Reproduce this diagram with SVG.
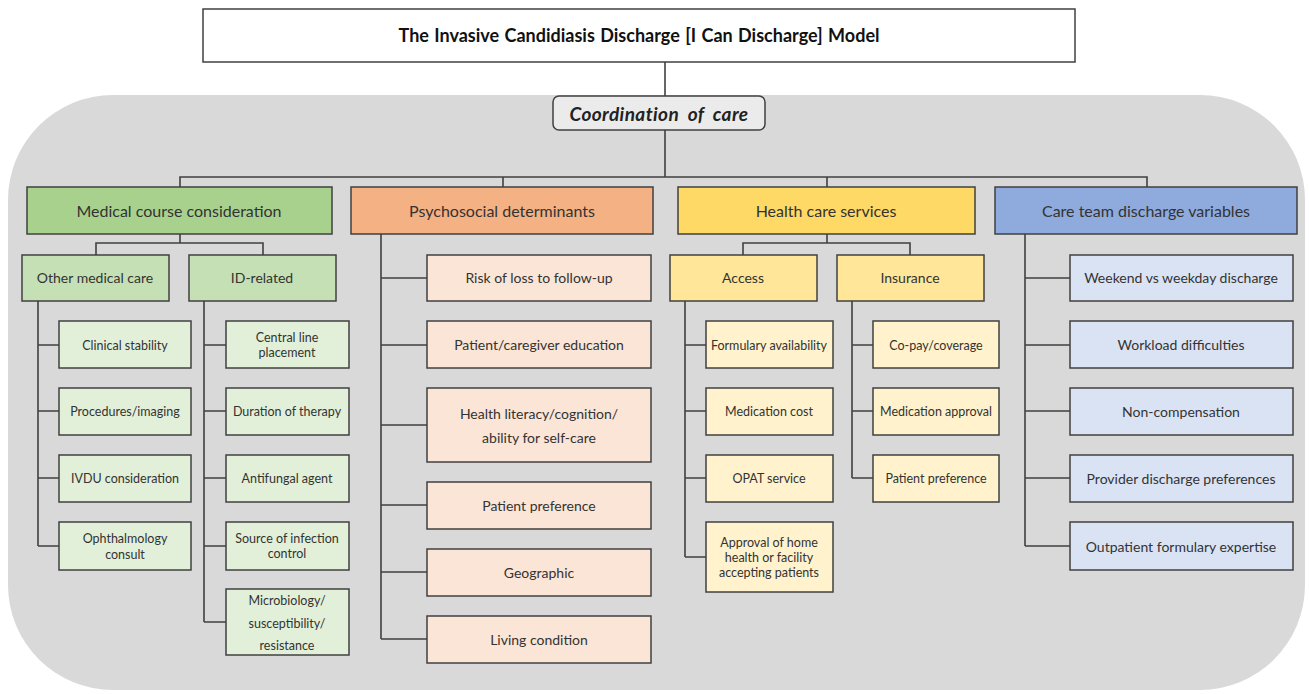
<svg xmlns="http://www.w3.org/2000/svg" width="1309" height="694" viewBox="0 0 1309 694">
  <style>
    text { font-family: "Lato", "Open Sans", "Liberation Sans", sans-serif; fill: #333333; text-anchor: middle; dominant-baseline: central; }
    .box { stroke: #404040; stroke-width: 1.5; }
    .conn { stroke: #404040; stroke-width: 1.6; fill: none; }
    .title { font-size: 18px; font-weight: bold; fill: #111; word-spacing: 1px; }
    .coord { font-size: 19px; font-weight: bold; font-style: italic; fill: #222; word-spacing: 4px; letter-spacing: 0.4px; }
    .cat { font-size: 16px; }
    .sub { font-size: 14px; }
    .leaf { font-size: 12.5px; }
    .pleaf { font-size: 14px; }
    .g1 { fill: #a9d18e; } .g2 { fill: #c5e0b4; } .g3 { fill: #e2f0d9; }
    .o1 { fill: #f4b183; } .o3 { fill: #fbe5d6; }
    .y1 { fill: #ffd966; } .y2 { fill: #ffe699; } .y3 { fill: #fff2cc; }
    .b1 { fill: #8faadc; } .b3 { fill: #dae3f3; }
  </style>

  <!-- background panel -->
  <rect x="8" y="95" width="1297" height="595" rx="105" ry="105" fill="#d9d9d9"/>

  <!-- connectors -->
  <g id="connectors" class="conn">
    <path d="M665 62 V96"/>
    <path d="M665 130 V177 M180 187 V177 H1147 V187 M503 177 V187 M827 177 V187"/>
    <!-- medical -->
    <path d="M180 234 V243 M96 255 V243 H263 V255"/>
    <path d="M38 301 V546 M38 345 H59 M38 411 H59 M38 478 H59 M38 546 H59"/>
    <path d="M204 301 V622 M204 345 H226 M204 411 H226 M204 478 H226 M204 546 H226 M204 622 H226"/>
    <!-- psychosocial -->
    <path d="M381 234 V639 M381 278 H427 M381 345 H427 M381 425 H427 M381 505 H427 M381 572 H427 M381 639 H427"/>
    <!-- health care services -->
    <path d="M827 234 V243 M743 255 V243 H910 V255"/>
    <path d="M685 301 V557 M685 345 H706 M685 411 H706 M685 478 H706 M685 557 H706"/>
    <path d="M852 301 V478 M852 345 H873 M852 411 H873 M852 478 H873"/>
    <!-- care team -->
    <path d="M1025 234 V546 M1025 278 H1070 M1025 345 H1070 M1025 411 H1070 M1025 478 H1070 M1025 546 H1070"/>
  </g>

  <g id="title">
    <rect class="box" x="203" y="9" width="872" height="53" fill="#ffffff"/>
    <text class="title" x="639" y="35">The Invasive Candidiasis Discharge [I Can Discharge] Model</text>
  </g>

  <g id="coordination">
    <rect class="box" x="553" y="96" width="212" height="34" rx="6" fill="#ebebeb"/>
    <text class="coord" x="659" y="113">Coordination of care</text>
  </g>

  <!-- categories -->
  <g id="medical"><rect class="box g1" x="27" y="187" width="305" height="47"/><text class="cat" x="179" y="210">Medical course consideration</text></g>
  <g id="psychosocial"><rect class="box o1" x="351" y="187" width="302" height="47"/><text class="cat" x="502" y="210">Psychosocial determinants</text></g>
  <g id="healthcare"><rect class="box y1" x="678" y="187" width="297" height="47"/><text class="cat" x="826" y="210">Health care services</text></g>
  <g id="careteam"><rect class="box b1" x="995" y="187" width="302" height="47"/><text class="cat" x="1146" y="210">Care team discharge variables</text></g>

  <!-- medical subgroups -->
  <g id="other-medical"><rect class="box g2" x="22" y="255" width="147" height="46"/><text class="sub" x="95" y="277">Other medical care</text></g>
  <g id="id-related"><rect class="box g2" x="189" y="255" width="147" height="46"/><text class="sub" x="262" y="277">ID-related</text></g>

  <g id="clinical-stability"><rect class="box g3" x="59" y="321" width="132" height="47"/><text class="leaf" x="125" y="345">Clinical stability</text></g>
  <g id="procedures"><rect class="box g3" x="59" y="388" width="132" height="47"/><text class="leaf" x="125" y="411">Procedures/imaging</text></g>
  <g id="ivdu"><rect class="box g3" x="59" y="455" width="132" height="47"/><text class="leaf" x="125" y="478">IVDU consideration</text></g>
  <g id="ophthalmology"><rect class="box g3" x="59" y="522" width="132" height="48"/><text class="leaf" x="125" y="538">Ophthalmology</text><text class="leaf" x="125" y="554">consult</text></g>

  <g id="central-line"><rect class="box g3" x="226" y="321" width="123" height="47"/><text class="leaf" x="287" y="337">Central line</text><text class="leaf" x="287" y="352">placement</text></g>
  <g id="duration"><rect class="box g3" x="226" y="388" width="123" height="47"/><text class="leaf" x="287" y="411">Duration of therapy</text></g>
  <g id="antifungal"><rect class="box g3" x="226" y="455" width="123" height="47"/><text class="leaf" x="287" y="478">Antifungal agent</text></g>
  <g id="source-control"><rect class="box g3" x="226" y="522" width="123" height="48"/><text class="leaf" x="287" y="538">Source of infection</text><text class="leaf" x="287" y="553">control</text></g>
  <g id="microbiology"><rect class="box g3" x="226" y="589" width="123" height="66"/><text class="leaf" x="287" y="600">Microbiology/</text><text class="leaf" x="287" y="623">susceptibility/</text><text class="leaf" x="287" y="645">resistance</text></g>

  <!-- psychosocial items -->
  <g id="risk-loss"><rect class="box o3" x="427" y="255" width="224" height="46"/><text class="pleaf" x="539" y="277">Risk of loss to follow-up</text></g>
  <g id="education"><rect class="box o3" x="427" y="321" width="224" height="47"/><text class="pleaf" x="539" y="344">Patient/caregiver education</text></g>
  <g id="literacy"><rect class="box o3" x="427" y="388" width="224" height="74"/><text class="pleaf" x="539" y="413">Health literacy/cognition/</text><text class="pleaf" x="539" y="437">ability for self-care</text></g>
  <g id="psy-preference"><rect class="box o3" x="427" y="482" width="224" height="47"/><text class="pleaf" x="539" y="505">Patient preference</text></g>
  <g id="geographic"><rect class="box o3" x="427" y="549" width="224" height="47"/><text class="pleaf" x="539" y="572">Geographic</text></g>
  <g id="living"><rect class="box o3" x="427" y="616" width="224" height="47"/><text class="pleaf" x="539" y="639">Living condition</text></g>

  <!-- health care subgroups -->
  <g id="access"><rect class="box y2" x="670" y="255" width="147" height="46"/><text class="sub" x="743" y="277">Access</text></g>
  <g id="insurance"><rect class="box y2" x="837" y="255" width="147" height="46"/><text class="sub" x="910" y="277">Insurance</text></g>

  <g id="formulary"><rect class="box y3" x="706" y="321" width="127" height="47"/><text class="leaf" x="769" y="345">Formulary availability</text></g>
  <g id="med-cost"><rect class="box y3" x="706" y="388" width="127" height="47"/><text class="leaf" x="769" y="411">Medication cost</text></g>
  <g id="opat"><rect class="box y3" x="706" y="455" width="127" height="47"/><text class="leaf" x="769" y="478">OPAT service</text></g>
  <g id="home-health"><rect class="box y3" x="706" y="522" width="127" height="70"/><text class="leaf" x="769" y="542">Approval of home</text><text class="leaf" x="769" y="557">health or facility</text><text class="leaf" x="769" y="572">accepting patients</text></g>

  <g id="copay"><rect class="box y3" x="873" y="321" width="126" height="47"/><text class="leaf" x="936" y="345">Co-pay/coverage</text></g>
  <g id="med-approval"><rect class="box y3" x="873" y="388" width="126" height="47"/><text class="leaf" x="936" y="411">Medication approval</text></g>
  <g id="ins-preference"><rect class="box y3" x="873" y="455" width="126" height="47"/><text class="leaf" x="936" y="478">Patient preference</text></g>

  <!-- care team items -->
  <g id="weekend"><rect class="box b3" x="1070" y="255" width="223" height="46"/><text class="pleaf" x="1181" y="277">Weekend vs weekday discharge</text></g>
  <g id="workload"><rect class="box b3" x="1070" y="321" width="223" height="47"/><text class="pleaf" x="1181" y="344">Workload difficulties</text></g>
  <g id="non-compensation"><rect class="box b3" x="1070" y="388" width="223" height="47"/><text class="pleaf" x="1181" y="411">Non-compensation</text></g>
  <g id="provider-pref"><rect class="box b3" x="1070" y="455" width="223" height="47"/><text class="pleaf" x="1181" y="478">Provider discharge preferences</text></g>
  <g id="outpatient"><rect class="box b3" x="1070" y="522" width="223" height="48"/><text class="pleaf" x="1181" y="546">Outpatient formulary expertise</text></g>
</svg>
